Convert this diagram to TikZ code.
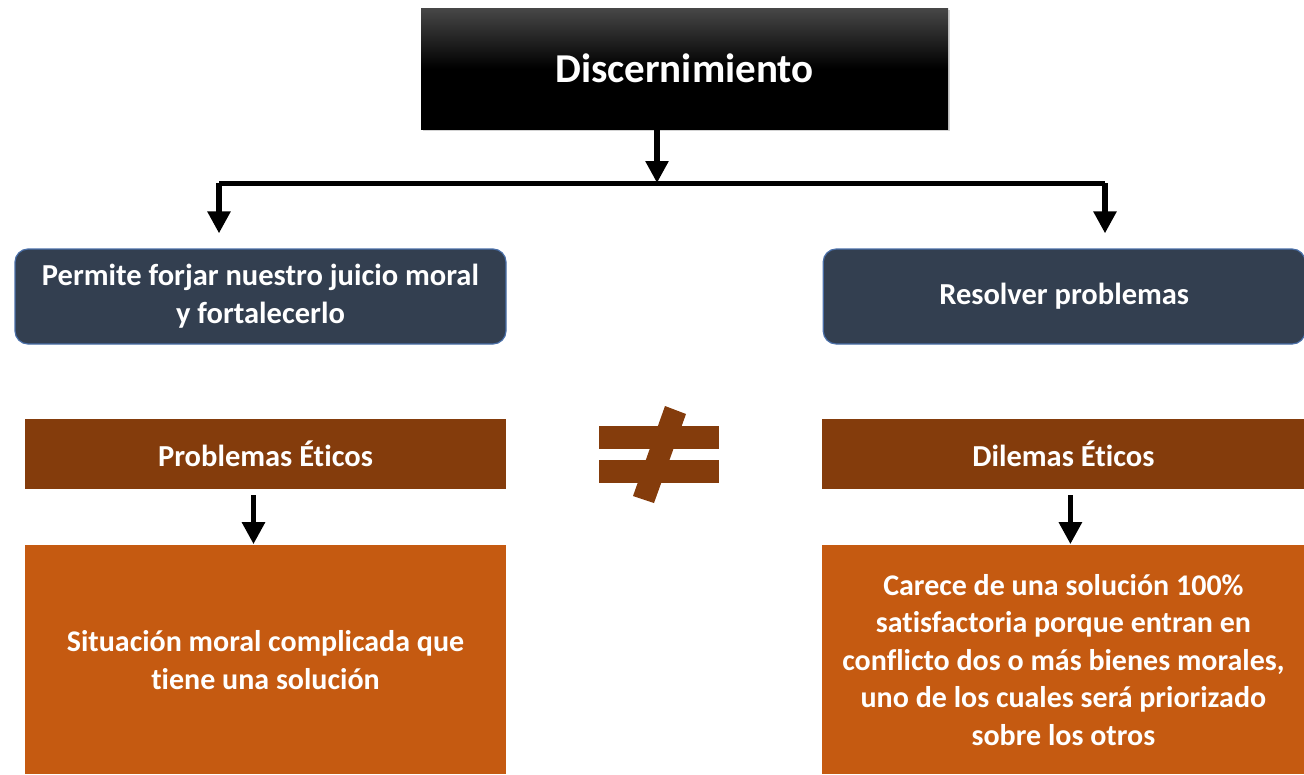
\documentclass[tikz,border=0pt]{standalone}
\usepackage{fontspec}
\setmainfont[Ligatures=NoCommon]{Carlito}
\usetikzlibrary{positioning,arrows.meta,shadows}
\definecolor{pizarra}{HTML}{333F50}
\definecolor{bordeazul}{HTML}{4A6FA8}
\definecolor{marron}{HTML}{843C0C}
\definecolor{naranja}{HTML}{C55A11}

\begin{document}
\begin{tikzpicture}[
			x=1pt, y=-1pt,
			titulo/.style={
				rectangle, align=center, text=white, inner sep=0pt,
				font=\bfseries\fontsize{41}{48}\selectfont,
				top color=black!72, bottom color=black, middle color=black,
				minimum width=527pt, minimum height=121pt,
				drop shadow={opacity=0.35, shadow xshift=2pt, shadow yshift=-2pt}
			},
			azul/.style={
				draw=bordeazul, line width=1.2pt, fill=pizarra, rectangle,
				rounded corners=13pt, align=center, text=white, inner sep=0pt,
				font=\bfseries\fontsize{30.5}{38}\selectfont, minimum height=95pt
			},
			cabecera/.style={
				fill=marron, rectangle, align=center, text=white, inner sep=0pt,
				font=\bfseries\fontsize{30.5}{38}\selectfont,
				minimum width=481pt, minimum height=70pt
			},
			cuerpo/.style={
				fill=naranja, rectangle, align=center, text=white, inner sep=0pt,
				font=\bfseries\fontsize{30}{37.5}\selectfont,
				minimum width=481pt, minimum height=229pt
			},
			arr/.style={-{Triangle[width=22pt,length=22pt]}, line width=5.5pt}
			]
			\useasboundingbox (0,0) rectangle (1304,774);
			
			%==================== Titulo ====================
			\node[titulo] (discern) at (684.5,68.5) {Discernimiento};
			
			%==================== Fila azul ====================
			\node[azul, minimum width=491pt] (juicio) at (260.5,296.5) {
				Permite forjar nuestro juicio moral\\
				y fortalecerlo
			};
			\node[azul, minimum width=482pt, right=316pt of juicio] (resolver) {Resolver problemas};
			
			%==================== Columnas ====================
			\node[cabecera] (problemas) at (265.5,454) {Problemas Éticos};
			\node[cabecera, minimum width=482pt, right=316pt of problemas] (dilemas) {Dilemas Éticos};
			
			\node[cuerpo, below=56pt of problemas] (situacion) {
				Situación moral complicada que\\
				tiene una solución
			};
			\node[cuerpo, minimum width=482pt, right=316pt of situacion] (carece) {
				Carece de una solución 100\%\\
				satisfactoria porque entran en\\
				conflicto dos o más bienes morales,\\
				uno de los cuales será priorizado\\
				sobre los otros
			};
			
			%==================== Signo distinto ====================
			\fill[marron] (599,426) rectangle (719,449);
			\fill[marron] (599,460) rectangle (719,483);
			\fill[marron] (665,406) -- (686,414) -- (654,503) -- (633,496) -- cycle;
			
			%==================== Conectores ====================
			\coordinate (hub) at (657,183);
			\coordinate (izq) at (219,183);
			\coordinate (der) at (1105,183);
			
			\draw[arr] (discern.south -| hub) -- (hub);
			\draw[line width=5pt] (izq) -- (der);
			\draw[arr, shorten >=15pt] (izq) -- (izq |- juicio.north);
			\draw[arr, shorten >=15pt] (der) -- (der |- resolver.north);
			
			\draw[arr, shorten <=6pt, shorten >=1pt] ([xshift=-12pt]problemas.south) -- ([xshift=-12pt]situacion.north);
			\draw[arr, shorten <=6pt, shorten >=1pt] ([xshift=7pt]dilemas.south) -- ([xshift=7pt]carece.north);
			
		\end{tikzpicture}
\end{document}
